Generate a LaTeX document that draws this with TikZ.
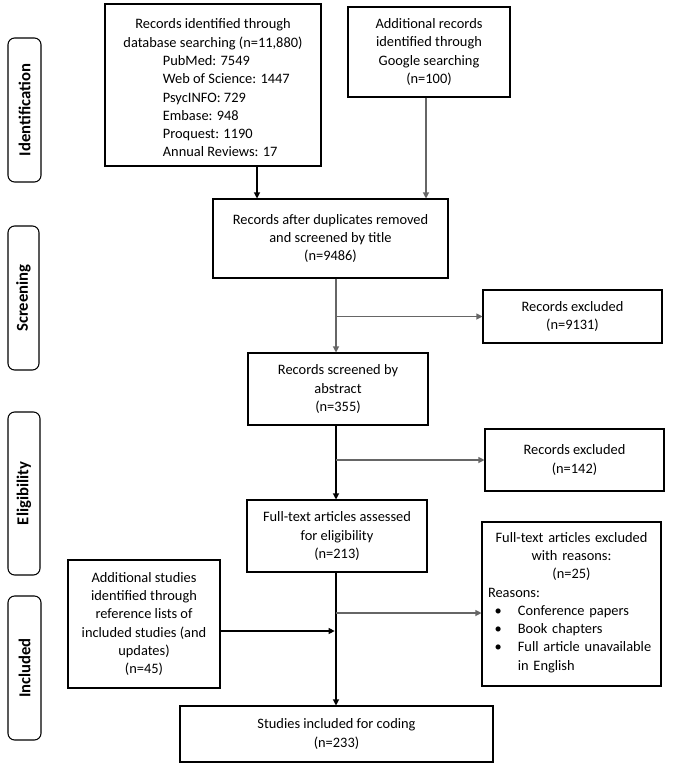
\documentclass[tikz,border=0pt]{standalone}
\usepackage{fontspec}
\setmainfont{Carlito}
\usetikzlibrary{arrows.meta}
\tikzset{
  box/.style={draw, line width=.8pt, align=center, inner sep=2pt, font=\fontsize{10.8}{13.7}\selectfont},
  stage/.style={draw, line width=.8pt, rounded corners=5pt, rotate=90, font=\fontsize{12.5}{14}\selectfont\bfseries},
  sz/.style 2 args={minimum width=#1*0.75pt, minimum height=#2*0.75pt},
  link/.style={->, line width=.8pt},
  glink/.style={->, line width=.8pt, draw=black!60},
}
\begin{document}
\begin{tikzpicture}[x=.75pt, y=-.75pt, >={Triangle[length=4.5pt, width=4.5pt]}]
\useasboundingbox (0,0) rectangle (672,768);
% stage labels
\node[stage, sz={144}{33}] (ident) at (24.5,110) {Identification};
\node[stage, sz={144}{31}] (screen) at (23.5,298) {Screening};
\node[stage, sz={163}{32}] (elig) at (24,493.5) {Eligibility};
\node[stage, sz={144}{33}] (incl) at (24.5,668) {Included};
% boxes
\node[box, sz={216}{162}] (dbase) at (213,85) {\rule{0pt}{16pt}Records identified through\\database searching (n=11,880)\\
  \hspace*{20pt}\begin{tabular}[t]{@{}l@{}}PubMed: 7549\\Web of Science: 1447\\PsycINFO: 729\\Embase: 948\\Proquest: 1190\\Annual Reviews: 17\end{tabular}};
\node[box, sz={162}{90}] (google) at (429,52) {Additional records\\identified through\\Google searching\\(n=100)};
\node[box, sz={235}{79}] (dedup) at (330.5,238.5) {Records after duplicates removed\\and screened by title\\(n=9486)};
\node[box, sz={180}{72}] (abstr) at (338,389) {Records screened by\\abstract\\(n=355)};
\node[box, sz={179}{53}] (excla) at (572.5,316.5) {Records excluded\\(n=9131)};
\node[box, sz={180}{72}] (fulltext) at (337,536) {Full-text articles assessed\\for eligibility\\(n=213)};
\node[box, sz={179}{62}] (exclb) at (574.5,460) {Records excluded\\(n=142)};
\node[box, sz={152}{128}] (extra) at (144,624) {Additional studies\\identified through\\reference lists of\\included studies (and\\updates)\\(n=45)};
\node[box, sz={179}{164}, text width=167*0.75pt, align=left] (exclc) at (571.5,604) {{\centering Full-text articles excluded\\with reasons:\\(n=25)\par}
  Reasons:\\
  \begin{tabular}[t]{@{\hspace{5pt}}l@{\hspace{12pt}}l@{}}\textbullet & Conference papers\\\textbullet & Book chapters\\\textbullet & Full article unavailable\\ & in English\end{tabular}};
\node[box, sz={313}{56}] (final) at (336.5,734) {Studies included for coding\\(n=233)};
% connectors
\coordinate (trunk) at (336,0);
\coordinate (lane1) at (257,0);
\coordinate (lane2) at (426,0);
\coordinate (tapc) at (0,613);
\coordinate (tapx) at (0,631);
\draw[link] (dbase.south -| lane1) -- (dedup.north -| lane1);
\draw[glink] (google.south -| lane2) -- (dedup.north -| lane2);
\draw[glink] (dedup.south -| trunk) -- (abstr.north -| trunk);
\draw[glink] (excla.west -| trunk) -- (excla.west);
\draw[link] (abstr.south -| trunk) -- (fulltext.north -| trunk);
\draw[glink] (exclb.west -| trunk) -- (exclb.west);
\draw[link] (fulltext.south -| trunk) -- (final.north -| trunk);
\draw[glink] (trunk |- tapc) -- (exclc.west |- tapc);
\draw[link, shorten >=1pt] (extra.east |- tapx) -- (trunk |- tapx);
\end{tikzpicture}
\end{document}
